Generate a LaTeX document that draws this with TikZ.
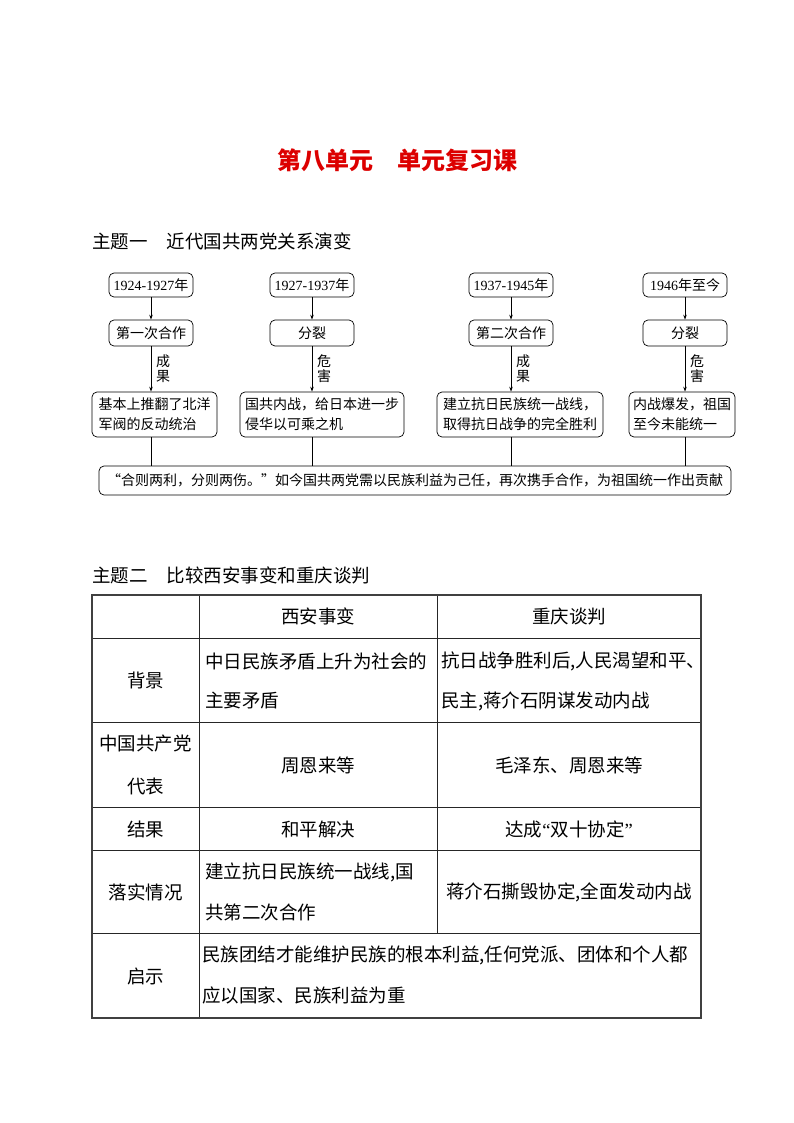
\documentclass[tikz,border=0pt]{standalone}
\usepackage{fontspec}
\setmainfont{Liberation Serif}
\newfontfamily\cjk{Noto Sans CJK SC}
\newfontfamily\ser{Liberation Serif}
\usetikzlibrary{arrows.meta}
\definecolor{titlered}{RGB}{220,0,0}
\tikzset{
  fbox/.style={draw, rounded corners=5pt, line width=0.7pt, inner sep=2pt,
    font=\cjk\fontsize{14}{20}\selectfont},
  rowa/.style={fbox, minimum width=84pt, minimum height=24pt},
  rowb/.style={fbox, minimum width=84pt, minimum height=26pt},
  rowc/.style={fbox, minimum height=45pt, align=left},
  conn/.style={line width=0.7pt},
  arr/.style={conn, -{Stealth[length=5pt,width=3.5pt]}},
  albl/.style={font=\cjk\fontsize{14}{15}\selectfont, align=center, inner sep=0pt},
  head/.style={anchor=west, inner sep=0pt, font=\cjk\fontsize{18.5}{20}\selectfont},
  tline/.style={line width=0.7pt, black!85},
  tborder/.style={line width=1.8pt, black!75},
  cell/.style={inner sep=0pt, font=\cjk\fontsize{18.5}{40}\selectfont},
}
\begin{document}
\begin{tikzpicture}[x=1pt,y=-1pt]
\useasboundingbox (0,0) rectangle (794,1123);
% title
\node[font=\cjk\bfseries\fontsize{24}{26}\selectfont, text=titlered, inner sep=0pt] (title) at (397,160) {第八单元\hspace{24pt}单元复习课};
% heading 1
\node[head] (h1) at (92,241) {主题一\hspace{19pt}近代国共两党关系演变};
% row 1
\node[rowa] (a1) at (151,285) {{\ser 1924-1927}年};
\node[rowa] (b1) at (312,285) {{\ser 1927-1937}年};
\node[rowa] (c1) at (511,285) {{\ser 1937-1945}年};
\node[rowa] (d1) at (685,285) {{\ser 1946}年至今};
% row 2
\node[rowb] (a2) at (151,333) {第一次合作};
\node[rowb] (b2) at (312,333) {分裂};
\node[rowb] (c2) at (511,333) {第二次合作};
\node[rowb] (d2) at (685,333) {分裂};
% row 3
\node[rowc, minimum width=125pt] (a3) at (154.5,414.5) {基本上推翻了北洋\\军阀的反动统治};
\node[rowc, minimum width=164pt] (b3) at (322,414.5) {国共内战，给日本进一步\\侵华以可乘之机};
\node[rowc, minimum width=166pt] (c3) at (520,414.5) {建立抗日民族统一战线，\\取得抗日战争的完全胜利};
\node[rowc, minimum width=106pt] (d3) at (682,414.5) {内战爆发，祖国\\至今未能统一};
% bottom
\node[fbox, minimum width=632pt, minimum height=29pt] (bot) at (415,480.5) {“合则两利，分则两伤。”如今国共两党需以民族利益为己任，再次携手合作，为祖国统一作出贡献};
% arrows row1->row2
\draw[arr] (a1) -- (a2);
\draw[arr] (b1) -- (b2);
\draw[arr] (c1) -- (c2);
\draw[arr] (d1) -- (d2);
% arrows row2->row3
\draw[arr] (a2) -- (a2 |- a3.north);
\draw[arr] (b2) -- (b2 |- b3.north);
\draw[arr] (c2) -- (c2 |- c3.north);
\draw[arr] (d2) -- (d2 |- d3.north);
\node[albl] (la) at (163,369) {成\\果};
\node[albl] (lb) at (324,369) {危\\害};
\node[albl] (lc) at (523,369) {成\\果};
\node[albl] (ld) at (697,369) {危\\害};
% lines row3->bottom
\draw[conn] (a1 |- a3.south) -- (a1 |- bot.north);
\draw[conn] (b1 |- b3.south) -- (b1 |- bot.north);
\draw[conn] (c1 |- c3.south) -- (c1 |- bot.north);
\draw[conn] (d1 |- d3.south) -- (d1 |- bot.north);
% heading 2
\node[head] (h2) at (92,575) {主题二\hspace{19pt}比较西安事变和重庆谈判};
% table lines
\draw[tline] (92,638) -- (701,638);
\draw[tline] (92,722) -- (701,722);
\draw[tline] (92,807) -- (701,807);
\draw[tline] (92,850) -- (701,850);
\draw[tline] (92,933) -- (701,933);
\draw[tline] (199,595) -- (199,1018);
\draw[tline] (437,595) -- (437,933);
\draw[tborder] (92,595) rectangle (701,1018);
% header row
\node[cell] (t12) at (318,616.5) {西安事变};
\node[cell] (t13) at (569,616.5) {重庆谈判};
% background row
\node[cell] (t21) at (145.5,680) {背景};
\node[cell, anchor=west] (t22a) at (205,661) {中日民族矛盾上升为社会的};
\node[cell, anchor=west] (t22b) at (205,701) {主要矛盾};
\node[cell, anchor=west] (t23a) at (441,661) {抗日战争胜利后,人民渴望和平、};
\node[cell, anchor=west] (t23b) at (441,701) {民主,蒋介石阴谋发动内战};
% representatives row
\node[cell] (t31a) at (145.5,744) {中国共产党};
\node[cell] (t31b) at (145.5,786) {代表};
\node[cell] (t32) at (318,765) {周恩来等};
\node[cell] (t33) at (569,765) {毛泽东、周恩来等};
% result row
\node[cell] (t41) at (145.5,829) {结果};
\node[cell] (t42) at (318,829) {和平解决};
\node[cell] (t43) at (569,829) {达成{\ser “}双十协定{\ser ”}};
% implementation row
\node[cell] (t51) at (145.5,892) {落实情况};
\node[cell, anchor=west] (t52a) at (205,872) {建立抗日民族统一战线,国};
\node[cell, anchor=west] (t52b) at (205,912) {共第二次合作};
\node[cell] (t53) at (569,892) {蒋介石撕毁协定,全面发动内战};
% lesson row
\node[cell] (t61) at (145.5,976) {启示};
\node[cell, anchor=west] (t62a) at (202,955) {民族团结才能维护民族的根本利益,任何党派、团体和个人都};
\node[cell, anchor=west] (t62b) at (202,995) {应以国家、民族利益为重};
\end{tikzpicture}
\end{document}
